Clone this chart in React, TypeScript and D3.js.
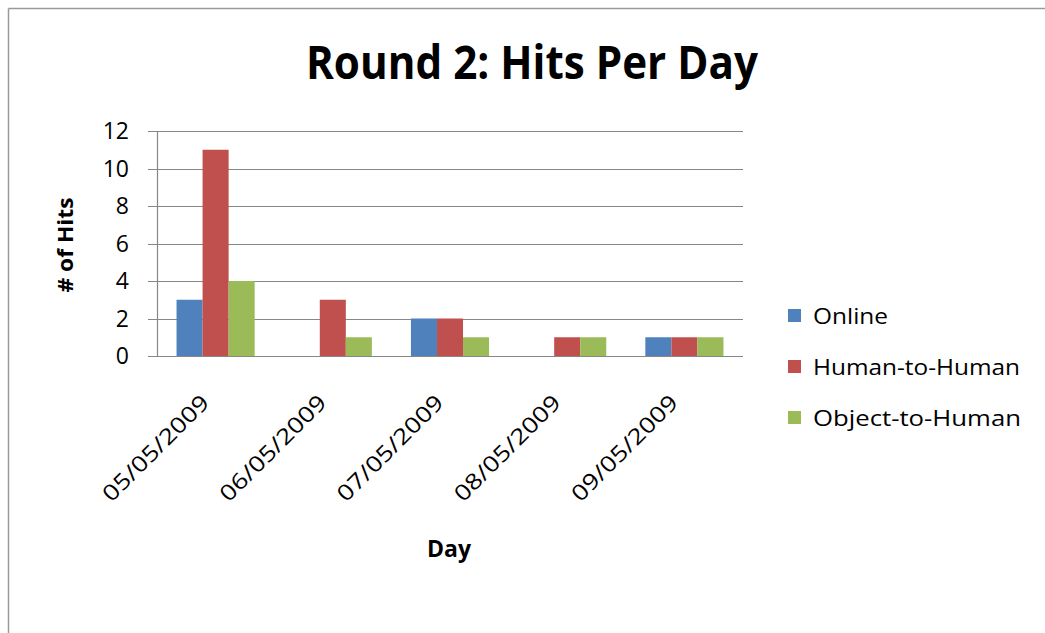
import React from "react";
import * as d3 from "d3";

const categories = ["05/05/2009", "06/05/2009", "07/05/2009", "08/05/2009", "09/05/2009"];
const seriesNames = ["Online", "Human-to-Human", "Object-to-Human"];
const online = [3, 0, 2, 0, 1];
const humanToHuman = [11, 3, 2, 1, 1];
const objectToHuman = [4, 1, 1, 1, 1];
const seriesColors = ["#4F81BD", "#C0504D", "#9BBB59"];
const yTicks = [0, 2, 4, 6, 8, 10, 12];

const W = 1045;
const H = 633;
const FONT = "'Open Sans', 'Noto Sans', sans-serif";

export default function App() {
  const series = [online, humanToHuman, objectToHuman];
  const plot = { left: 157, right: 743, top: 131, bottom: 356 };

  const x0 = d3
    .scaleBand<string>()
    .domain(categories)
    .range([plot.left, plot.right])
    .paddingInner(0)
    .paddingOuter(0);
  const groupW = (x0.bandwidth() * 3) / 4.5;
  const x1 = d3
    .scaleBand<string>()
    .domain(seriesNames)
    .range([0, groupW])
    .padding(0);
  const y = d3.scaleLinear().domain([0, 12]).range([plot.bottom, plot.top]);

  const legendY = [316, 367, 418];

  return (
    <svg
      width={W}
      height={H}
      style={{ position: "absolute", left: 0, top: 0, background: "#fff" }}
      fontFamily={FONT}
    >
      <rect x={0} y={0} width={W} height={H} fill="#fff" />
      {/* frame */}
      <line x1={8.5} y1={8.5} x2={W} y2={8.5} stroke="#9a9a9a" strokeWidth={1.5} />
      <line x1={8.5} y1={8.5} x2={8.5} y2={H} stroke="#9a9a9a" strokeWidth={1.5} />

      {/* title */}
      <text
        x={532}
        y={79}
        textAnchor="middle"
        fontSize={46}
        fontWeight="bold"
        fill="#000"
        textLength={452}
        lengthAdjust="spacingAndGlyphs"
      >
        Round 2: Hits Per Day
      </text>

      {/* gridlines + y ticks */}
      {yTicks.map((t) => (
        <g key={t}>
          <line
            x1={plot.left - 9}
            x2={plot.right}
            y1={Math.round(y(t)) + 0.5}
            y2={Math.round(y(t)) + 0.5}
            stroke="#878787"
            strokeWidth={1.2}
          />
          <text
            x={129}
            y={y(t) + 8}
            textAnchor="end"
            fontSize={23}
            fill="#000"
          >
            {t}
          </text>
        </g>
      ))}
      <line
        x1={plot.left + 0.5}
        x2={plot.left + 0.5}
        y1={plot.top}
        y2={plot.bottom}
        stroke="#878787"
        strokeWidth={1.2}
      />

      {/* bars */}
      {categories.map((c, ci) => {
        const gx = (x0(c) as number) + (x0.bandwidth() - groupW) / 2;
        return (
          <g key={c} transform={`translate(${gx},0)`}>
            {series.map((s, si) =>
              s[ci] > 0 ? (
                <rect
                  key={si}
                  x={x1(seriesNames[si]) as number}
                  y={y(s[ci])}
                  width={x1.bandwidth()}
                  height={y(0) - y(s[ci])}
                  fill={seriesColors[si]}
                />
              ) : null
            )}
          </g>
        );
      })}

      {/* x axis line */}
      <line
        x1={plot.left}
        x2={plot.right}
        y1={Math.round(y(0)) + 0.5}
        y2={Math.round(y(0)) + 0.5}
        stroke="#878787"
        strokeWidth={1.2}
      />

      {/* x labels */}
      {categories.map((c) => {
        const cx = (x0(c) as number) + x0.bandwidth() / 2;
        return (
          <text
            key={c}
            transform={`translate(${cx - 5},404) rotate(-45)`}
            textAnchor="end"
            fontSize={22}
            fill="#000"
            textLength={140}
            lengthAdjust="spacingAndGlyphs"
          >
            {c}
          </text>
        );
      })}

      {/* axis titles */}
      <text
        transform={`translate(73,245) rotate(-90)`}
        textAnchor="middle"
        fontSize={22}
        fontWeight="bold"
        fill="#000"
        textLength={95}
        lengthAdjust="spacingAndGlyphs"
      >
        # of Hits
      </text>
      <text
        x={449}
        y={557}
        textAnchor="middle"
        fontSize={23}
        fontWeight="bold"
        fill="#000"
        textLength={44}
        lengthAdjust="spacingAndGlyphs"
      >
        Day
      </text>

      {/* legend */}
      {seriesNames.map((n, i) => (
        <g key={n}>
          <rect x={788} y={legendY[i] - 7} width={13} height={13} fill={seriesColors[i]} />
          <text
            x={813}
            y={legendY[i] + 8}
            fontSize={22}
            fill="#000"
            textLength={n === "Online" ? 75 : n === "Human-to-Human" ? 207 : 208}
            lengthAdjust="spacingAndGlyphs"
          >
            {n}
          </text>
        </g>
      ))}
    </svg>
  );
}
